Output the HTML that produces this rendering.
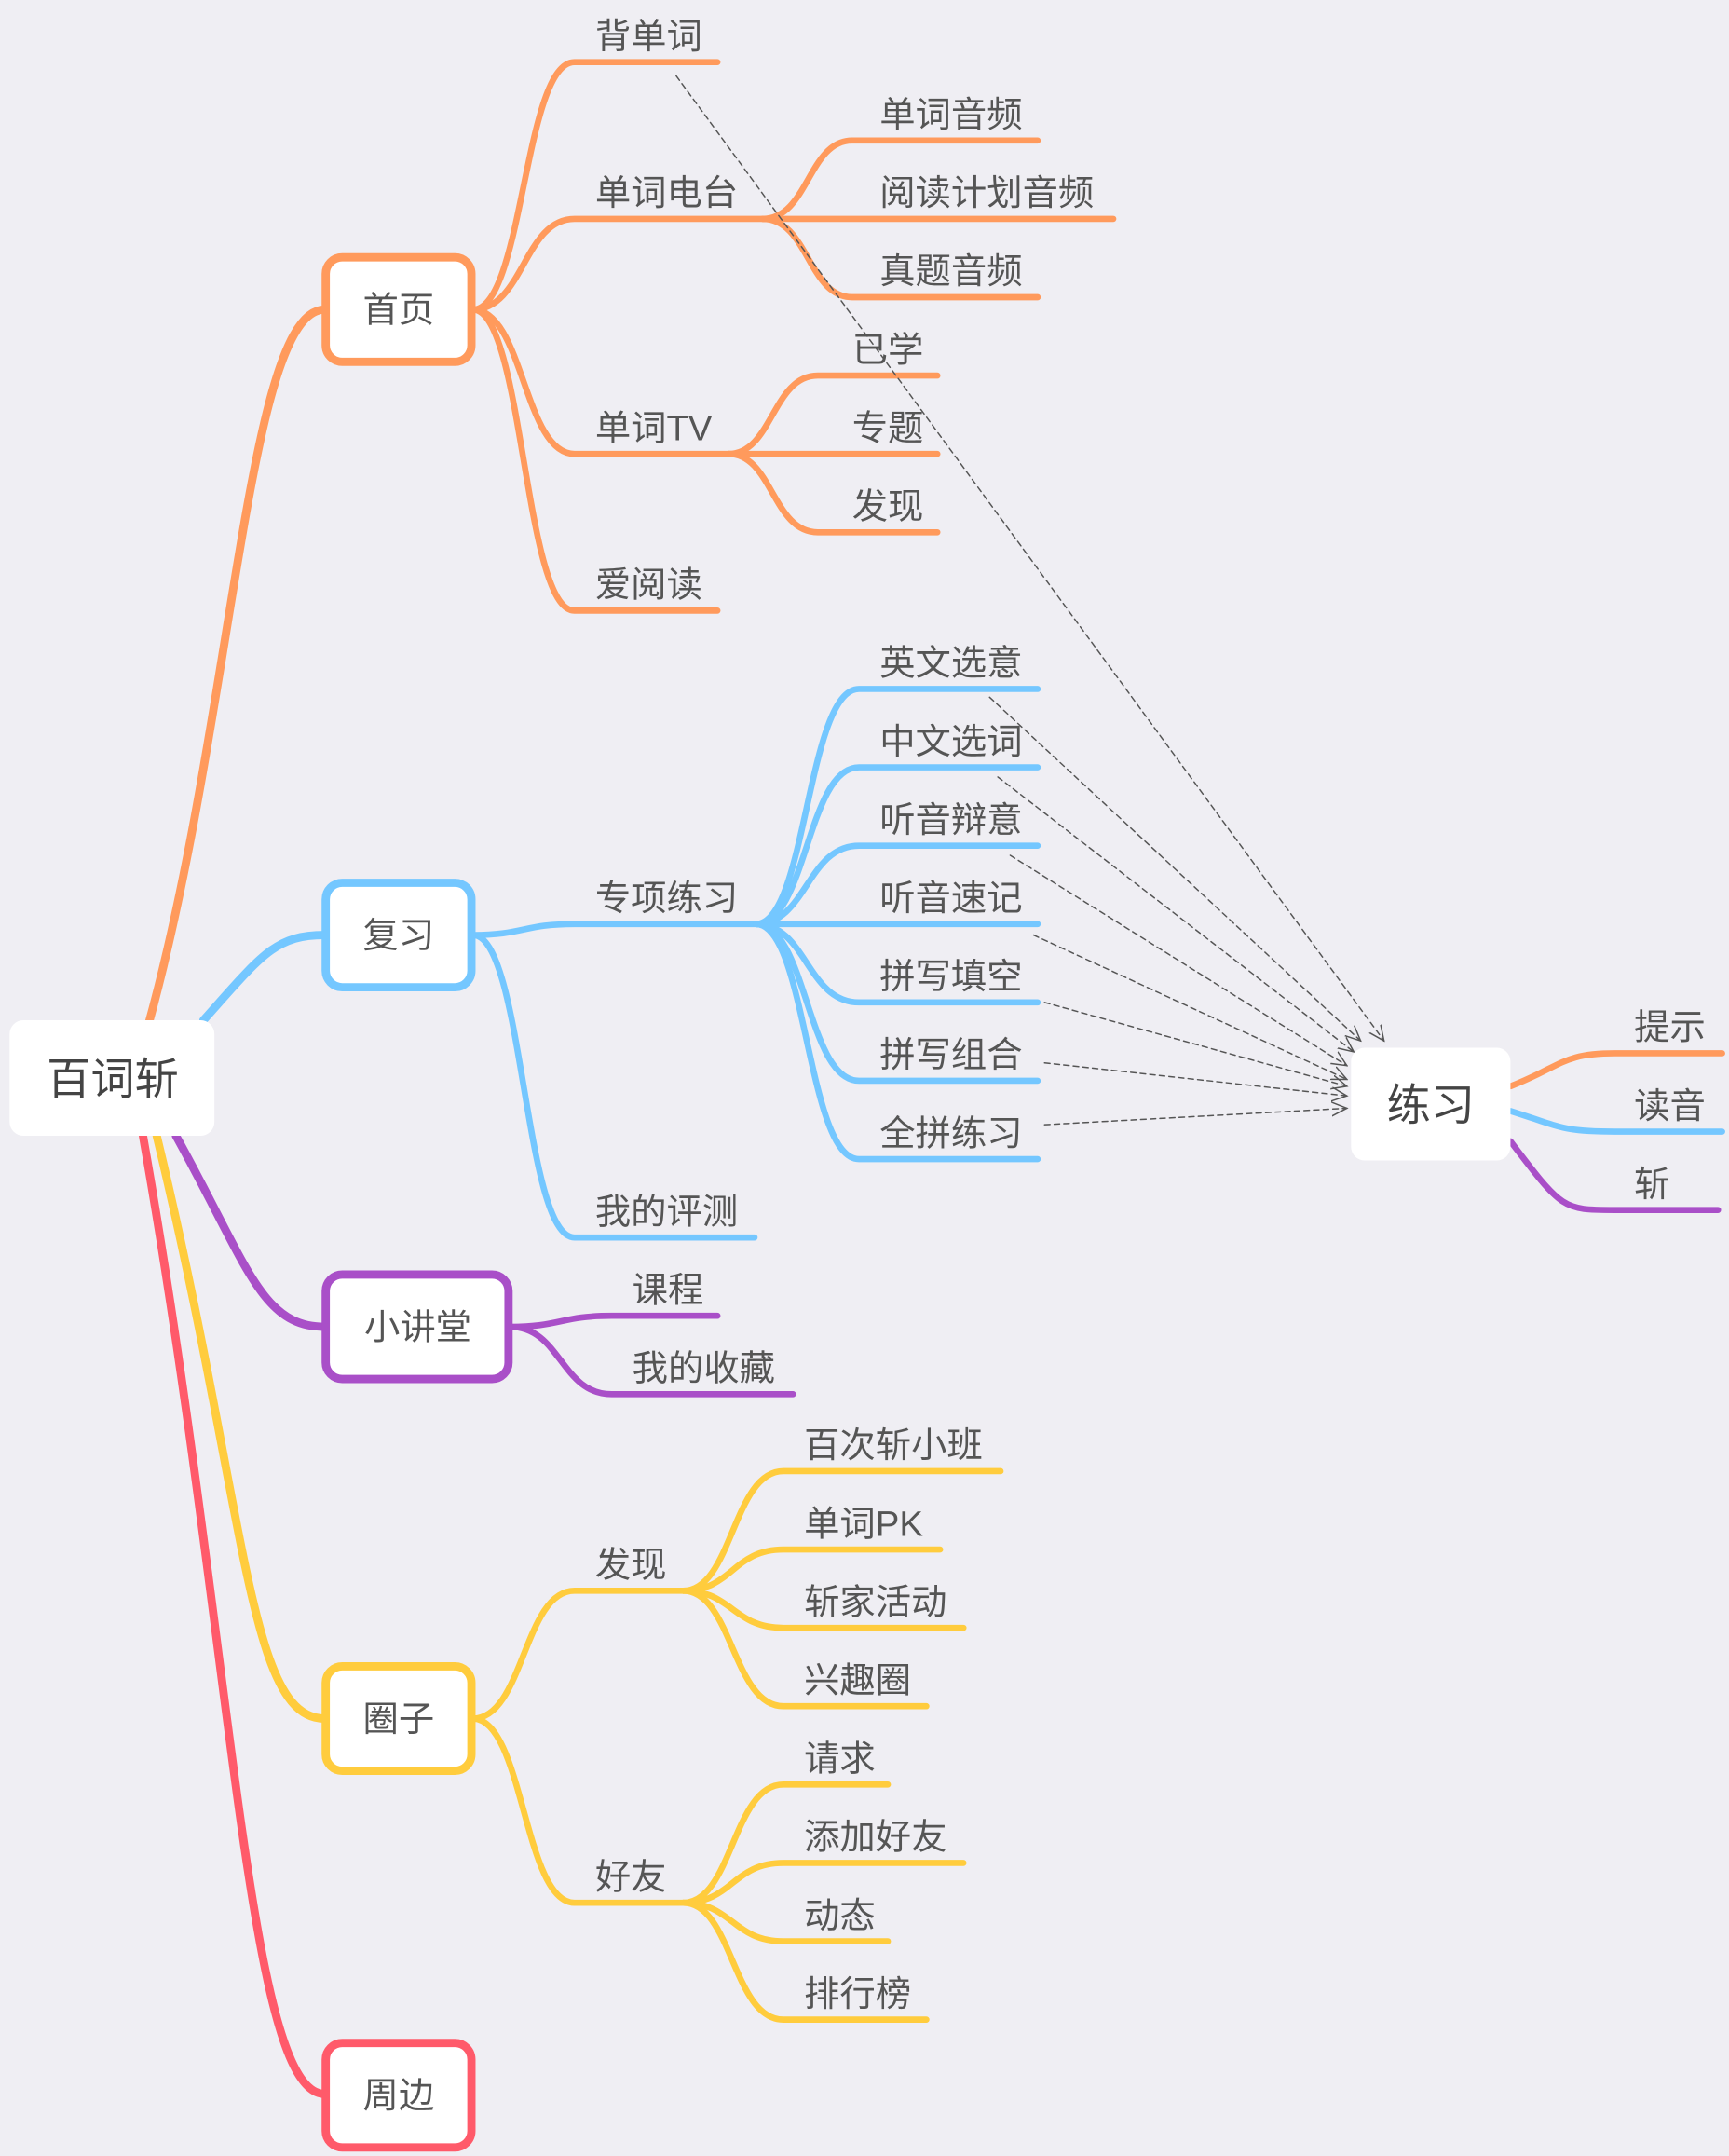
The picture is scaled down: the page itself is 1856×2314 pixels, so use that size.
<!DOCTYPE html>
<html><head><meta charset="utf-8">
<style>
html,body{margin:0;padding:0;background:#EFEEF3;}
svg{display:block;}
text{font-family:"Liberation Sans","Noto Sans CJK SC",sans-serif;fill:#555;font-size:26px;}
.o{stroke:#FF9A5C}.b{stroke:#74C7FF}.p{stroke:#A94FC8}.y{stroke:#FFCC3D}.r{stroke:#FF5A6A}
path{fill:none;stroke-linecap:round}
.c path{stroke-width:4.5}
.d{stroke:#555;stroke-width:1;stroke-dasharray:4,3}
</style></head><body>
<svg width="1856" height="2314" viewBox="0 0 1258 1568" xmlns="http://www.w3.org/2000/svg">
<defs><marker id="a" markerWidth="12" markerHeight="12" refX="11" refY="6" orient="auto" markerUnits="userSpaceOnUse"><path d="M0,1 L11,6 L0,11" stroke="#555" stroke-width="1" fill="none"/></marker></defs>
<rect width="1258" height="1568" fill="#EFEEF3"/>
<!-- root branches -->
<g style="stroke-width:6">
<path class="o" d="M108,745 C170,520 180,225 236,225"/>
<path class="b" d="M148,742 C190,695 200,680 236,680"/>
<path class="p" d="M128,826 C180,920 190,965 236,965"/>
<path class="y" d="M114,826 C180,1100 180,1250 236,1250"/>
<path class="r" d="M104,826 C170,1200 180,1523 236,1523"/>
</g>
<g class="c">
<path class="o" d="M344,225 C381,225 381,45 418,45 L522,45"/>
<path class="o" d="M344,225 C381,225 381,159 418,159 L565,159"/>
<path class="o" d="M344,225 C381,225 381,330 418,330 L535,330"/>
<path class="o" d="M344,225 C381,225 381,444 418,444 L522,444"/>
<path class="o" d="M555,159 C588,159 588,102 620,102 L755,102"/>
<path class="o" d="M555,159 L810,159"/>
<path class="o" d="M555,159 C588,159 588,216 620,216 L755,216"/>
<path class="o" d="M530,330 C562,330 562,273 595,273 L682,273"/>
<path class="o" d="M530,330 L682,330"/>
<path class="o" d="M530,330 C562,330 562,387 595,387 L682,387"/>
<path class="b" d="M344,680 C381,680 381,672 418,672 L555,672"/>
<path class="b" d="M344,680 C381,680 381,900 418,900 L549,900"/>
<path class="b" d="M550,672 C587,672 587,501 625,501 L755,501"/>
<path class="b" d="M550,672 C587,672 587,558 625,558 L755,558"/>
<path class="b" d="M550,672 C587,672 587,615 625,615 L755,615"/>
<path class="b" d="M550,672 L755,672"/>
<path class="b" d="M550,672 C587,672 587,729 625,729 L755,729"/>
<path class="b" d="M550,672 C587,672 587,786 625,786 L755,786"/>
<path class="b" d="M550,672 C587,672 587,843 625,843 L755,843"/>
<path class="p" d="M371,965 C408,965 408,957 445,957 L522,957"/>
<path class="p" d="M371,965 C408,965 408,1014 445,1014 L577,1014"/>
<path class="y" d="M344,1250 C381,1250 381,1157 418,1157 L497,1157"/>
<path class="y" d="M344,1250 C381,1250 381,1384 418,1384 L497,1384"/>
<path class="y" d="M497,1157 C533,1157 533,1070 570,1070 L728,1070"/>
<path class="y" d="M497,1157 C533,1157 533,1127 570,1127 L684,1127"/>
<path class="y" d="M497,1157 C533,1157 533,1184 570,1184 L701,1184"/>
<path class="y" d="M497,1157 C533,1157 533,1241 570,1241 L674,1241"/>
<path class="y" d="M497,1384 C533,1384 533,1298 570,1298 L646,1298"/>
<path class="y" d="M497,1384 C533,1384 533,1355 570,1355 L701,1355"/>
<path class="y" d="M497,1384 C533,1384 533,1412 570,1412 L646,1412"/>
<path class="y" d="M497,1384 C533,1384 533,1469 570,1469 L674,1469"/>
<path class="o" d="M1099,790 C1137,775 1137,766 1175,766 L1253,766"/>
<path class="b" d="M1099,808 C1137,820 1137,823 1175,823 L1253,823"/>
<path class="p" d="M1099,830 C1137,880 1137,880 1175,880 L1250,880"/>
</g>
<!-- dashed arrows -->
<g>
<path class="d" marker-end="url(#a)" d="M492,55 L1007,757"/>
<path class="d" marker-end="url(#a)" d="M720,507 L990,757"/>
<path class="d" marker-end="url(#a)" d="M726,565 L985,765"/>
<path class="d" marker-end="url(#a)" d="M735,622 L980,775"/>
<path class="d" marker-end="url(#a)" d="M752,680 L980,785"/>
<path class="d" marker-end="url(#a)" d="M760,729 L980,790"/>
<path class="d" marker-end="url(#a)" d="M760,773 L980,797"/>
<path class="d" marker-end="url(#a)" d="M760,818 L980,806"/>
</g>
<!-- boxes -->
<rect x="7" y="742" width="149" height="84" rx="10" fill="#fff"/>
<text x="82" y="796" text-anchor="middle" style="font-size:32px;fill:#444">百词斩</text>
<rect x="983" y="762" width="116" height="82" rx="10" fill="#fff"/>
<text x="1041" y="815" text-anchor="middle" style="font-size:32px;fill:#444">练习</text>
<g stroke-width="6" fill="#fff">
<rect x="237" y="187" width="106" height="76" rx="12" stroke="#FF9A5C"/>
<rect x="237" y="642" width="106" height="76" rx="12" stroke="#74C7FF"/>
<rect x="237" y="927" width="133" height="76" rx="12" stroke="#A94FC8"/>
<rect x="237" y="1212" width="106" height="76" rx="12" stroke="#FFCC3D"/>
<rect x="237" y="1486" width="106" height="76" rx="12" stroke="#FF5A6A"/>
</g>
<g text-anchor="middle">
<text x="290" y="234">首页</text>
<text x="290" y="689">复习</text>
<text x="304" y="974">小讲堂</text>
<text x="290" y="1259">圈子</text>
<text x="290" y="1533">周边</text>
</g>
<!-- labels -->
<text x="433" y="35">背单词</text>
<text x="433" y="149">单词电台</text>
<text x="433" y="320">单词TV</text>
<text x="433" y="434">爱阅读</text>
<text x="640" y="92">单词音频</text>
<text x="640" y="149">阅读计划音频</text>
<text x="640" y="206">真题音频</text>
<text x="620" y="263">已学</text>
<text x="620" y="320">专题</text>
<text x="620" y="377">发现</text>
<text x="433" y="662">专项练习</text>
<text x="433" y="890">我的评测</text>
<text x="640" y="491">英文选意</text>
<text x="640" y="548">中文选词</text>
<text x="640" y="605">听音辩意</text>
<text x="640" y="662">听音速记</text>
<text x="640" y="719">拼写填空</text>
<text x="640" y="776">拼写组合</text>
<text x="640" y="833">全拼练习</text>
<text x="460" y="947">课程</text>
<text x="460" y="1004">我的收藏</text>
<text x="433" y="1147">发现</text>
<text x="433" y="1374">好友</text>
<text x="585" y="1060">百次斩小班</text>
<text x="585" y="1117">单词PK</text>
<text x="585" y="1174">斩家活动</text>
<text x="585" y="1231">兴趣圈</text>
<text x="585" y="1288">请求</text>
<text x="585" y="1345">添加好友</text>
<text x="585" y="1402">动态</text>
<text x="585" y="1459">排行榜</text>
<text x="1189" y="756">提示</text>
<text x="1189" y="813">读音</text>
<text x="1189" y="870">斩</text>
</svg>
</body></html>
